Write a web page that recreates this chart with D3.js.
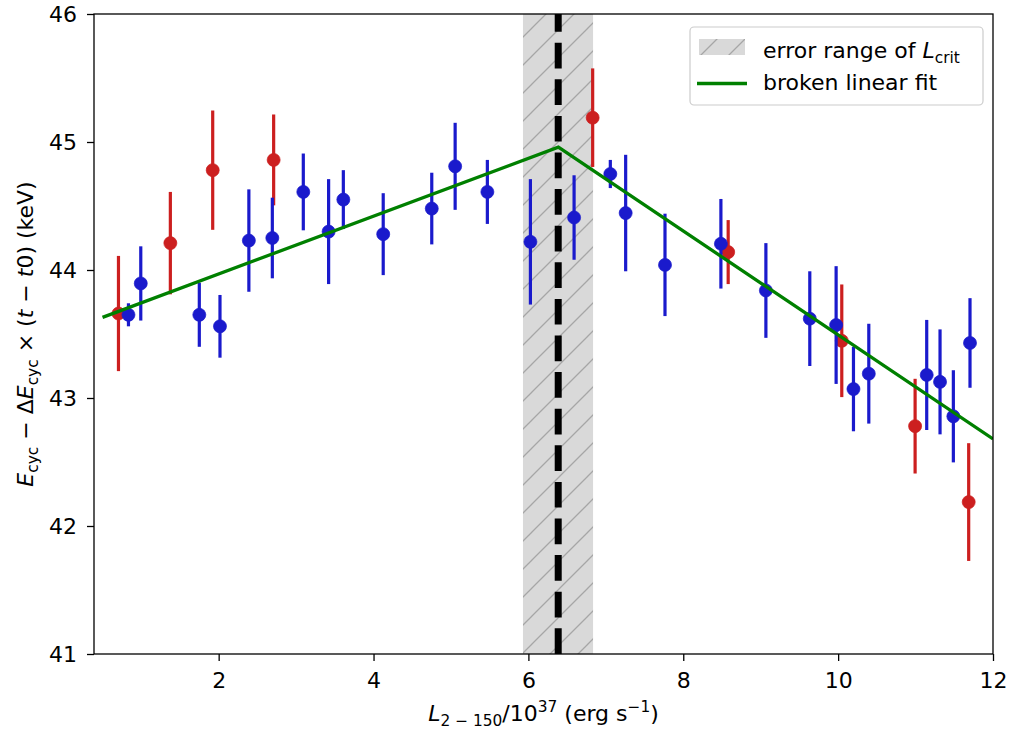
<!DOCTYPE html>
<html>
<head>
<meta charset="utf-8">
<script src="https://cdn.jsdelivr.net/npm/d3@7"></script>
<style>
  body { margin: 0; background: #fff; }
  svg { display: block; font-family: "DejaVu Sans", sans-serif; }
</style>
</head>
<body>
<svg id="chart" width="1012" height="732"></svg>
<script>
// blue points: luminosity, energy, error
const blue_x = [0.835, 0.994, 1.75, 2.017, 2.39, 2.693, 3.093, 3.42, 3.61, 4.125, 4.752, 5.054, 5.47,
  6.026, 6.59, 7.058, 7.256, 7.764, 8.486, 9.067, 9.634, 9.974, 10.198, 10.396, 11.144, 11.316, 11.488, 11.703];
const blue_y = [43.65, 43.895, 43.65, 43.56, 44.23, 44.25, 44.61, 44.30, 44.55, 44.28, 44.48, 44.81, 44.61,
  44.22, 44.41, 44.75, 44.445, 44.04, 44.205, 43.84, 43.62, 43.57, 43.07, 43.19, 43.18, 43.126, 42.857, 43.43];
const blue_err = [0.09, 0.29, 0.25, 0.245, 0.40, 0.315, 0.30, 0.41, 0.23, 0.32, 0.28, 0.34, 0.25,
  0.49, 0.33, 0.11, 0.455, 0.40, 0.35, 0.37, 0.37, 0.46, 0.33, 0.39, 0.43, 0.41, 0.36, 0.35];

// red points
const red_x = [0.706, 1.376, 1.923, 2.71, 6.83, 8.58, 10.047, 10.994, 11.686];
const red_y = [43.66, 44.21, 44.78, 44.86, 45.19, 44.14, 43.447, 42.78, 42.187];
const red_err = [0.45, 0.40, 0.466, 0.355, 0.385, 0.25, 0.44, 0.37, 0.46];

// broken linear fit and critical luminosity
const fit_x = [0.5, 6.387, 12];
const fit_y = [43.63, 44.96, 42.68];
const l_crit = 6.385;
const l_crit_range = [5.93, 6.835];

const x_ticks = [2, 4, 6, 8, 10, 12];
const y_ticks = [41, 42, 43, 44, 45, 46];

// layout
const plot = { left: 94, right: 993, top: 14, bottom: 654 };
const fs = 22;
const col_blue = "#1a1acc";
const col_red = "#cc1f1f";

const svg = d3.select("#chart");

const x = d3.scaleLinear().domain([0.39, 12]).range([plot.left, plot.right]);
const y = d3.scaleLinear().domain([41, 46]).range([plot.bottom, plot.top]);

// hatch pattern
const hs = 28;
const defs = svg.append("defs");
const pat = defs.append("pattern")
  .attr("id", "hatch")
  .attr("patternUnits", "userSpaceOnUse")
  .attr("width", hs).attr("height", hs);
pat.append("rect").attr("width", hs).attr("height", hs).attr("fill", "#d9d9d9");
pat.append("path")
  .attr("d", `M0,${hs} L${hs},0 M-4,4 L4,-4 M${hs - 4},${hs + 4} L${hs + 4},${hs - 4}`)
  .attr("stroke", "#a6a6a6").attr("stroke-width", 1.3);

defs.append("clipPath").attr("id", "clip")
  .append("rect")
  .attr("x", plot.left).attr("y", plot.top)
  .attr("width", plot.right - plot.left).attr("height", plot.bottom - plot.top);

const g = svg.append("g").attr("clip-path", "url(#clip)");

// error range band
g.append("rect")
  .attr("x", x(l_crit_range[0]))
  .attr("y", plot.top)
  .attr("width", x(l_crit_range[1]) - x(l_crit_range[0]))
  .attr("height", plot.bottom - plot.top)
  .attr("fill", "url(#hatch)");

// dashed critical line, drawn from the bottom up
g.append("line")
  .attr("x1", x(l_crit)).attr("x2", x(l_crit))
  .attr("y1", y(41)).attr("y2", y(46))
  .attr("stroke", "#000")
  .attr("stroke-width", 7)
  .attr("stroke-dasharray", "25.7,10.9");

// points with errorbars
function draw_series(xs, ys, errs, color) {
  let data = xs.map((d, i) => ({ x: d, y: ys[i], e: errs[i] }));
  let pts = g.append("g").selectAll("g")
    .data(data)
    .join("g");

  pts.append("line")
    .attr("x1", d => x(d.x)).attr("x2", d => x(d.x))
    .attr("y1", d => y(d.y - d.e)).attr("y2", d => y(d.y + d.e))
    .attr("stroke", color)
    .attr("stroke-width", 3.2);

  pts.append("circle")
    .attr("cx", d => x(d.x))
    .attr("cy", d => y(d.y))
    .attr("r", 6.5)
    .attr("fill", color)
    .attr("stroke", color)
    .attr("stroke-opacity", 0.7)
    .attr("stroke-width", 1);
}

draw_series(red_x, red_y, red_err, col_red);
draw_series(blue_x, blue_y, blue_err, col_blue);

// fit line
const fit_line = d3.line().x(d => x(d[0])).y(d => y(d[1]));
g.append("path")
  .datum(fit_x.map((d, i) => [d, fit_y[i]]))
  .attr("d", fit_line)
  .attr("fill", "none")
  .attr("stroke", "#008000")
  .attr("stroke-width", 3.3);

// axes
const x_axis = svg.append("g")
  .attr("transform", "translate(0," + plot.bottom + ")")
  .call(d3.axisBottom(x).tickValues(x_ticks).tickFormat(d3.format("d")).tickSize(7).tickPadding(11).tickSizeOuter(0));

const y_axis = svg.append("g")
  .attr("transform", "translate(" + plot.left + ",0)")
  .call(d3.axisLeft(y).tickValues(y_ticks).tickFormat(d3.format("d")).tickSize(7).tickPadding(10).tickSizeOuter(0));

[x_axis, y_axis].forEach(a => {
  a.select(".domain").remove();
  a.selectAll(".tick line").attr("stroke", "#000").attr("stroke-width", 1.3);
  a.selectAll(".tick text")
    .attr("fill", "#000")
    .attr("font-size", fs)
    .attr("font-family", "DejaVu Sans");
});

// frame
svg.append("rect")
  .attr("x", plot.left).attr("y", plot.top)
  .attr("width", plot.right - plot.left).attr("height", plot.bottom - plot.top)
  .attr("fill", "none")
  .attr("stroke", "#000")
  .attr("stroke-width", 1.3);

// rich text helper: segments [text, italic, pos]
function rich_text(sel, segs) {
  let shift = 0;
  segs.forEach(s => {
    let target = s[2] == "sub" ? 0.22 * fs : s[2] == "sup" ? -0.42 * fs : 0;
    let t = sel.append("tspan")
      .text(s[0])
      .attr("dy", target - shift)
      .attr("font-size", s[2] ? fs * 0.7 : fs)
      .attr("font-style", s[1] ? "italic" : "normal");
    shift = target;
  });
}

// x label
let xl = svg.append("text")
  .attr("x", (plot.left + plot.right) / 2)
  .attr("y", 721)
  .attr("text-anchor", "middle")
  .attr("font-size", fs);
rich_text(xl, [["L", true], ["2 \u2212 150", false, "sub"], ["/10", false], ["37", false, "sup"],
  [" (erg s", false], ["\u22121", false, "sup"], [")", false]]);

// y label
let yl = svg.append("text")
  .attr("transform", "translate(33," + ((plot.top + plot.bottom) / 2) + ") rotate(-90)")
  .attr("text-anchor", "middle")
  .attr("font-size", fs);
rich_text(yl, [["E", true], ["cyc", false, "sub"], [" \u2212 \u0394", false], ["E", true], ["cyc", false, "sub"],
  [" \u00d7 (", false], ["t", true], [" \u2212 ", false], ["t", true], ["0) (keV)", false]]);

// legend
const lg = svg.append("g");
lg.append("rect")
  .attr("x", 690).attr("y", 27)
  .attr("width", 293).attr("height", 78)
  .attr("rx", 4)
  .attr("fill", "#fff").attr("fill-opacity", 0.8)
  .attr("stroke", "#cccccc").attr("stroke-width", 1.2);
lg.append("rect")
  .attr("x", 699).attr("y", 39)
  .attr("width", 46).attr("height", 16)
  .attr("fill", "url(#hatch)");
lg.append("line")
  .attr("x1", 697).attr("x2", 747)
  .attr("y1", 83.5).attr("y2", 83.5)
  .attr("stroke", "#008000").attr("stroke-width", 3.3);
let lt1 = lg.append("text").attr("x", 763).attr("y", 58).attr("font-size", fs);
rich_text(lt1, [["error range of ", false], ["L", true], ["crit", false, "sub"]]);
lg.append("text").attr("x", 763).attr("y", 90).attr("font-size", fs).text("broken linear fit");
</script>
</body>
</html>
